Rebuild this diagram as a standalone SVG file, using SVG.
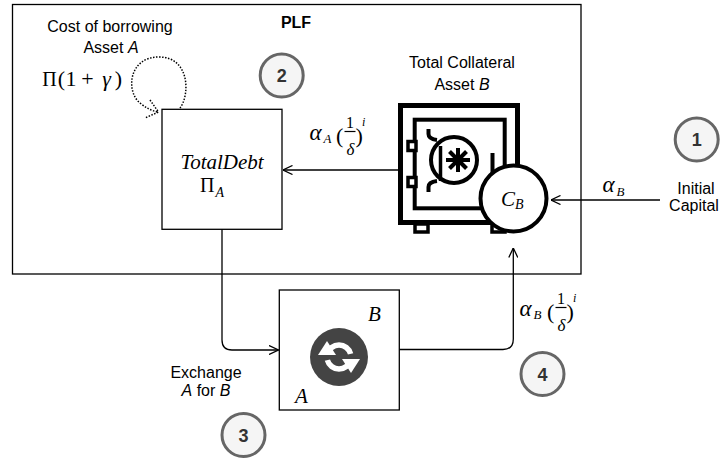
<svg xmlns="http://www.w3.org/2000/svg" width="724" height="460" viewBox="0 0 724 460">
<style>
.sans{font-family:"Liberation Sans",Arial,sans-serif;font-size:16px;fill:#000}
.mi{font-family:"Liberation Serif","DejaVu Serif",serif;font-style:italic;fill:#000}
.mr{font-family:"Liberation Serif","DejaVu Serif",serif;fill:#000}
.gk{font-family:"Liberation Serif","DejaVu Serif",serif;font-style:italic;fill:#000}
.num{font-family:"Liberation Sans",Arial,sans-serif;font-size:18px;font-weight:bold;fill:#333;text-anchor:middle}
.badge{fill:#f5f5f5;stroke:#666;stroke-width:3}
.box{fill:#fff;stroke:#000;stroke-width:1.3}
.conn{fill:none;stroke:#000;stroke-width:1.3}
.safe{fill:none;stroke:#000;stroke-linejoin:miter}
</style>
<defs>
<marker id="arrow" viewBox="0 0 10 10" refX="10" refY="5" markerWidth="10" markerHeight="10" markerUnits="userSpaceOnUse" orient="auto">
<path d="M0.5,0.5 L10,5 L0.5,9.5" fill="none" stroke="#000" stroke-width="1.3"/>
</marker>
</defs>
<rect width="724" height="460" fill="#fff"/>

<g id="plf">
<rect x="12.5" y="4.5" width="568.5" height="269.5" fill="none" stroke="#000" stroke-width="1.3"/>
<text x="296" y="28" class="sans" font-size="18" font-weight="bold" text-anchor="middle">PLF</text>
</g>

<g id="cost-label">
<text x="110" y="32" class="sans" text-anchor="middle">Cost of borrowing</text>
<text x="111" y="53" class="sans" text-anchor="middle">Asset <tspan font-style="italic">A</tspan></text>
<g text-anchor="middle">
<text x="49.5" y="86" class="mr" font-size="20">Π</text>
<text x="61.5" y="86" class="mr" font-size="22">(</text>
<text x="71" y="86" class="mr" font-size="22">1</text>
<text x="87.5" y="86" class="mr" font-size="22">+</text>
<text x="106.5" y="86" class="gk" font-size="22">γ</text>
<text x="118.5" y="86" class="mr" font-size="22">)</text>
</g>
</g>

<g id="total-debt">
<rect x="162" y="109.3" width="120" height="120" class="box"/>
<text x="222" y="169" class="mi" font-size="21" text-anchor="middle">TotalDebt</text>
<text x="200" y="192" class="mr" font-size="20">Π</text>
<text x="215.5" y="197" class="mi" font-size="14">A</text>
</g>

<g id="collateral">
<text x="462" y="68" class="sans" text-anchor="middle">Total Collateral</text>
<text x="462" y="90" class="sans" text-anchor="middle">Asset <tspan font-style="italic">B</tspan></text>
<rect x="400.5" y="105.5" width="117" height="117" class="safe" stroke-width="5"/>
<rect x="414.7" y="119.7" width="90" height="88.6" class="safe" stroke-width="4"/>
<rect x="415" y="224" width="13" height="8" fill="#fff" stroke="#000" stroke-width="3.5"/>
<rect x="492" y="224" width="13" height="8" fill="#fff" stroke="#000" stroke-width="3.5"/>
<rect x="408" y="141.5" width="8" height="9" fill="#fff" stroke="#000" stroke-width="3.5"/>
<rect x="408" y="177.5" width="8" height="9" fill="#fff" stroke="#000" stroke-width="3.5"/>
<circle cx="454" cy="160" r="23" class="safe" stroke-width="4"/>
<path d="M428.5,129 V134 Q428.5,139 437,140 M428.5,192 V187 Q428.5,182 437,181" class="safe" stroke-width="4"/>
<line x1="440.5" y1="146" x2="440.5" y2="181" stroke="#000" stroke-width="3.5"/>
<g stroke="#000" stroke-width="4">
<line x1="446" y1="160" x2="470" y2="160"/>
<line x1="458" y1="148" x2="458" y2="172"/>
<line x1="449.5" y1="151.5" x2="466.5" y2="168.5"/>
<line x1="449.5" y1="168.5" x2="466.5" y2="151.5"/>
</g>
<line x1="492.5" y1="153" x2="492.5" y2="180" stroke="#000" stroke-width="4"/>
<circle cx="513.5" cy="198.5" r="33" fill="#fff" stroke="#000" stroke-width="4"/>
<text x="501" y="206" class="mi" font-size="21">C</text>
<text x="515" y="209" class="mi" font-size="14">B</text>
</g>

<g id="exchange">
<rect x="279.3" y="290" width="120" height="120" class="box"/>
<circle cx="339" cy="357" r="29" fill="#444"/>
<g fill="none" stroke="#fff" stroke-width="5.5">
<path d="M350.6,360.1 A12,12 0 0 1 327.4,360.1"/>
<path d="M327.4,353.9 A12,12 0 0 1 350.6,353.9"/>
</g>
<path d="M327,341 L318,355 L336,355 Z" fill="#fff"/>
<path d="M351,373 L342,359 L360,359 Z" fill="#fff"/>
<text x="368" y="321" class="mi" font-size="21">B</text>
<text x="295" y="403" class="mi" font-size="21">A</text>
<text x="206" y="378" class="sans" text-anchor="middle">Exchange</text>
<text x="206" y="396" class="sans" text-anchor="middle"><tspan font-style="italic">A</tspan> for <tspan font-style="italic">B</tspan></text>
</g>

<g id="initial-capital">
<text x="696" y="194" class="sans" text-anchor="middle">Initial</text>
<text x="694" y="211" class="sans" text-anchor="middle">Capital</text>
</g>

<g id="badge-1"><circle cx="696.7" cy="139.5" r="21.5" class="badge"/><text x="696.7" y="146" class="num">1</text></g>
<g id="badge-2"><circle cx="281.7" cy="75.5" r="21.5" class="badge"/><text x="281.7" y="82" class="num">2</text></g>
<g id="badge-3"><circle cx="243.5" cy="435" r="21.5" class="badge"/><text x="243.5" y="441.5" class="num">3</text></g>
<g id="badge-4"><circle cx="542.5" cy="374" r="21.5" class="badge"/><text x="542.5" y="380.5" class="num">4</text></g>

<g id="connectors">
<path d="M180,108 C190,95 190,57 159,57 C128,57 126,92 140,103 C146,108 152,111 158,112" fill="none" stroke="#000" stroke-width="1.5" stroke-dasharray="1.5 1.5"/>
<path d="M150,100 L158.5,112 L145,118" fill="none" stroke="#000" stroke-width="1.5" stroke-dasharray="1.5 1.5"/>
<path d="M398,170 H283" class="conn" marker-end="url(#arrow)"/>
<path d="M660,200 H551" class="conn" marker-end="url(#arrow)"/>
<path d="M222,229.3 V340 Q222,350 232,350 H278.5" class="conn" marker-end="url(#arrow)"/>
<path d="M399.3,349.5 H503 Q513.3,349.5 513.3,339 V248" class="conn" marker-end="url(#arrow)"/>

<g id="label-alphaA">
<text x="309.5" y="140" class="gk" font-size="23">α</text>
<text x="323.5" y="143" class="mi" font-size="13">A</text>
<text x="336" y="143" class="mr" font-size="22">(</text>
<text x="350" y="128" class="mr" font-size="16" text-anchor="middle">1</text>
<line x1="344.5" y1="131.5" x2="355.5" y2="131.5" stroke="#000" stroke-width="1.2"/>
<text x="350.5" y="155" class="mi" font-size="17" text-anchor="middle">δ</text>
<text x="355.5" y="143" class="mr" font-size="22">)</text>
<text x="362" y="126" class="mi" font-size="12">i</text>
</g>
<g id="label-alphaB-frac">
<text x="519.5" y="316" class="gk" font-size="23">α</text>
<text x="533.5" y="319" class="mi" font-size="13">B</text>
<text x="547" y="319" class="mr" font-size="22">(</text>
<text x="561" y="304" class="mr" font-size="16" text-anchor="middle">1</text>
<line x1="555.5" y1="307.5" x2="566.5" y2="307.5" stroke="#000" stroke-width="1.2"/>
<text x="561.5" y="331" class="mi" font-size="17" text-anchor="middle">δ</text>
<text x="566.5" y="319" class="mr" font-size="22">)</text>
<text x="573" y="302" class="mi" font-size="12">i</text>
</g>
<g id="label-alphaB">
<text x="602.5" y="192" class="gk" font-size="23">α</text>
<text x="616.5" y="196" class="mi" font-size="13">B</text>
</g>
</g>
</svg>
